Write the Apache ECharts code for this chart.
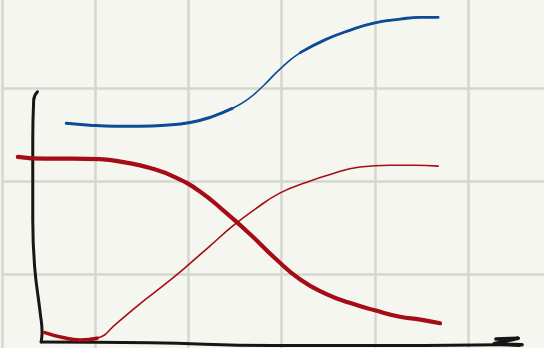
<!DOCTYPE html>
<html>
<head>
<meta charset="utf-8">
<script src="https://cdn.jsdelivr.net/npm/echarts@6/dist/echarts.min.js"></script>
<style>
  html, body { margin: 0; padding: 0; background: #f5f6f0; }
  #chart { width: 544px; height: 348px; }
</style>
</head>
<body>
<div id="chart"></div>
<script>
// Curves, in grid units (one unit = one square of the paper grid)
const blueCurve = [
  [0.69, 2.62], [0.94, 2.60], [1.21, 2.59], [1.48, 2.59], [1.75, 2.60],
  [2.02, 2.63], [2.25, 2.69], [2.47, 2.78], [2.64, 2.88], [2.81, 3.03],
  [2.98, 3.20], [3.20, 3.38], [3.47, 3.52], [3.73, 3.62], [4.00, 3.70],
  [4.27, 3.74], [4.49, 3.76], [4.68, 3.76]
];
const redFalling = [
  [0.17, 2.26], [0.46, 2.24], [0.75, 2.24], [1.05, 2.235], [1.32, 2.20],
  [1.59, 2.14], [1.86, 2.04], [2.12, 1.89], [2.39, 1.67], [2.66, 1.43],
  [2.93, 1.17], [3.20, 0.94], [3.47, 0.79], [3.73, 0.69], [4.00, 0.61],
  [4.27, 0.54], [4.49, 0.51], [4.70, 0.47]
];
const redRising = [
  [0.46, 0.37], [0.64, 0.32], [0.84, 0.29], [1.02, 0.31], [1.23, 0.47],
  [1.48, 0.68], [1.75, 0.89], [1.99, 1.09], [2.23, 1.30], [2.48, 1.52],
  [2.72, 1.70], [2.98, 1.87], [3.25, 1.98], [3.52, 2.07], [3.84, 2.15],
  [4.16, 2.17], [4.43, 2.17], [4.68, 2.16]
];
// Hand-drawn axes
const verticalStroke = [
  [0.38, 2.96], [0.34, 2.87], [0.33, 2.44], [0.33, 1.58], [0.35, 1.08],
  [0.41, 0.58], [0.43, 0.37], [0.42, 0.27]
];
const horizontalStroke = [
  [0.42, 0.27], [1.59, 0.26], [2.90, 0.23], [4.27, 0.23], [5.34, 0.24], [5.55, 0.23]
];
const arrowHead = [[5.30, 0.30], [5.54, 0.31], [5.28, 0.25], [5.58, 0.24]];

const BLUE = '#0c4b96';
const RED = '#a50d16';
const INK = '#161616';

function line(data, color, width, smooth) {
  return {
    type: 'line', data, symbol: 'none', smooth: smooth === undefined ? 0.5 : smooth,
    smoothConstraint: false,
    clip: false, silent: true,
    lineStyle: { color, width, cap: 'round', join: 'round' }
  };
}

const chart = echarts.init(document.getElementById('chart'), null, { renderer: 'canvas' });
chart.setOption({
  backgroundColor: '#f5f6f0',
  animation: false,
  grid: { left: 2, top: -5, width: 559.2, height: 372, outerBoundsMode: 'none', containLabel: false },
  xAxis: {
    type: 'value', min: 0, max: 6, interval: 1,
    axisLine: { show: false }, axisTick: { show: false }, axisLabel: { show: false },
    splitLine: { show: true, showMinLine: true, showMaxLine: true, lineStyle: { color: '#d6d6d0', width: 2.5 } }
  },
  yAxis: {
    type: 'value', min: 0, max: 4, interval: 1,
    axisLine: { show: false }, axisTick: { show: false }, axisLabel: { show: false },
    splitLine: { show: true, showMinLine: true, showMaxLine: true, lineStyle: { color: '#d6d6d0', width: 2.5 } }
  },
  series: [
    line(verticalStroke, INK, 3),
    line(horizontalStroke, INK, 3),
    line(arrowHead, INK, 3.5, false),
    // pen pressure: thin full stroke, heavier where the pen pressed down
    line(blueCurve, BLUE, 1.6),
    line(blueCurve.slice(0, 8), BLUE, 3),
    line(blueCurve.slice(11), BLUE, 2.8),
    line(redFalling, RED, 4.2),
    line(redRising, RED, 1.6),
    line(redRising.slice(0, 4), RED, 3.6)
  ]
});
</script>
</body>
</html>
